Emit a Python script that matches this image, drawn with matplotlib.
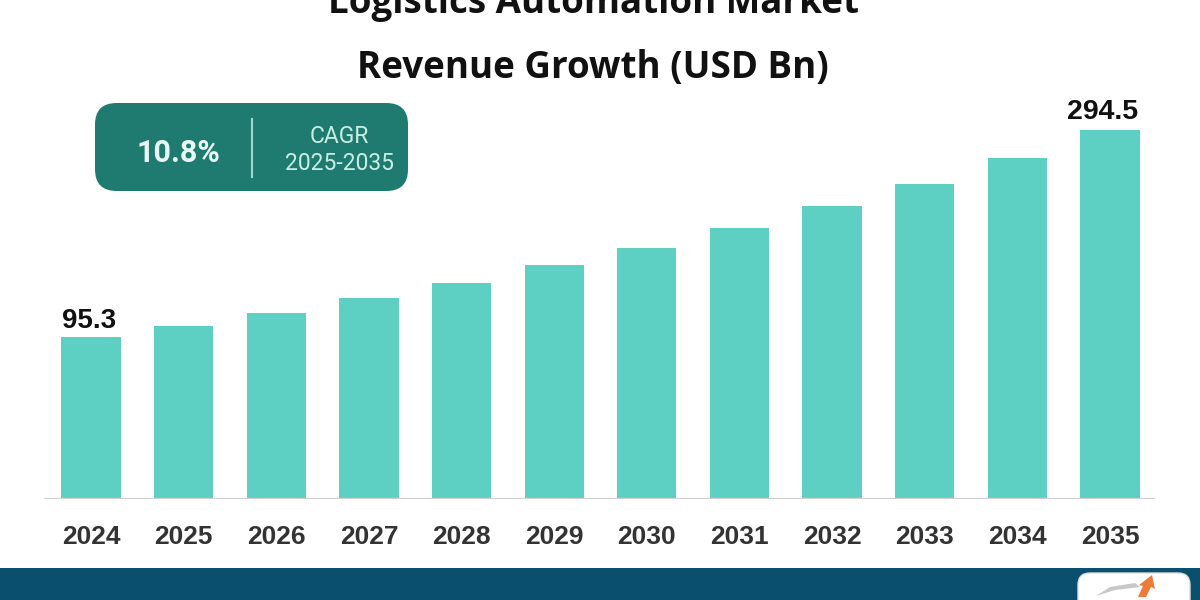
import matplotlib.pyplot as plt
from matplotlib.patches import FancyBboxPatch, Rectangle, Polygon

# data
years = ['2024', '2025', '2026', '2027', '2028', '2029',
         '2030', '2031', '2032', '2033', '2034', '2035']
revenue = [95.3, 105.9, 118.4, 132.8, 147.3, 164.6,
           180.9, 200.2, 221.4, 242.5, 267.6, 294.5]
shown_labels = {0: '95.3', 11: '294.5'}
cagr_value = '10.8%'
cagr_label = 'CAGR'
cagr_period = '2025-2035'
title_1 = 'Logistics Automation Market'
title_2 = 'Revenue Growth (USD Bn)'

bar_color = '#5ecfc3'
box_color = '#1f7b70'
band_color = '#0b4f6e'

W, H = 1200, 600
fig = plt.figure(figsize=(12, 6), dpi=100)
fig.patch.set_facecolor('white')

def fx(px):
    return px / W

def fy(py):
    return 1 - py / H

# bar axes
y0 = -60.6
ax = fig.add_axes([fx(44), fy(499), fx(1155) - fx(44), fy(100) - fy(499)])
x = list(range(len(years)))
heights = [v - y0 for v in revenue]
ax.bar(x, heights, bottom=y0, width=0.64, color=bar_color, zorder=2)
ax.set_xlim(-0.508, 11.486)
ax.set_ylim(y0, y0 + 384)
ax.axhline(y0, color='#cfcfcf', lw=1.6, zorder=3)
for s in ax.spines.values():
    s.set_visible(False)
ax.set_yticks([])
ax.set_xticks(x)
ax.set_xticklabels(years, fontsize=19, fontweight='bold', color='#333333',
                   family='Liberation Sans')
ax.tick_params(axis='x', length=0, pad=19)
ax.patch.set_alpha(0)

for i, lab in shown_labels.items():
    if i == 0:
        ax.text(i - 0.31, revenue[i] + 3, lab, ha='left', va='bottom',
                fontsize=20, fontweight='bold', color='#111111', family='Liberation Sans')
    else:
        ax.text(i + 0.30, revenue[i] + 5, lab, ha='right', va='bottom',
                fontsize=20.5, fontweight='bold', color='#111111', family='Liberation Sans')

# title
fig.text(fx(593), fy(13), title_1, ha='center', va='baseline', fontsize=26.5,
         fontweight='bold', color='#111111', family='Open Sans')
fig.text(fx(593), fy(78), title_2, ha='center', va='baseline', fontsize=26.5,
         fontweight='bold', color='#111111', family='Open Sans')

# CAGR box
box = FancyBboxPatch((fx(95), fy(191)), fx(408) - fx(95), fy(103) - fy(191),
                     boxstyle='round,pad=0,rounding_size=0.018',
                     transform=fig.transFigure, facecolor=box_color,
                     edgecolor='none', mutation_aspect=2)
fig.patches.append(box)
fig.add_artist(plt.Line2D([fx(252), fx(252)], [fy(119), fy(177)],
                          color='#9fd8cc', lw=1.5, transform=fig.transFigure))
fig.text(fx(178), fy(153), cagr_value, ha='center', va='center', fontsize=22,
         fontweight='bold', color='#e8f7f3', family='Roboto')
fig.text(fx(339), fy(137), cagr_label, ha='center', va='center', fontsize=16.5,
         color='#c8eee4', family='Roboto')
fig.text(fx(340), fy(163), cagr_period, ha='center', va='center', fontsize=16.5,
         color='#c8eee4', family='Roboto')

# bottom band and logo
fig.patches.append(Rectangle((0, 0), 1, fy(568), transform=fig.transFigure,
                             facecolor=band_color, edgecolor='none'))
logo = FancyBboxPatch((fx(1078), fy(612)), fx(1190) - fx(1078), fy(573) - fy(612),
                      boxstyle='round,pad=0,rounding_size=0.01',
                      transform=fig.transFigure, facecolor='white',
                      edgecolor='#dddddd', mutation_aspect=2)
fig.patches.append(logo)
fig.patches.append(Polygon([(fx(1096), fy(596)), (fx(1110), fy(587)), (fx(1135), fy(583)),
                            (fx(1140), fy(587)), (fx(1115), fy(590))],
                           closed=True, transform=fig.transFigure,
                           facecolor='#c8c8c8', edgecolor='none'))
fig.patches.append(Polygon([(fx(1138), fy(597)), (fx(1143), fy(586)), (fx(1139), fy(585)),
                            (fx(1152), fy(575)), (fx(1155), fy(589)), (fx(1151), fy(587)),
                            (fx(1146), fy(597))],
                           closed=True, transform=fig.transFigure,
                           facecolor='#ee7a3a', edgecolor='none'))

fig.savefig('out.png', dpi=100, facecolor='white')
